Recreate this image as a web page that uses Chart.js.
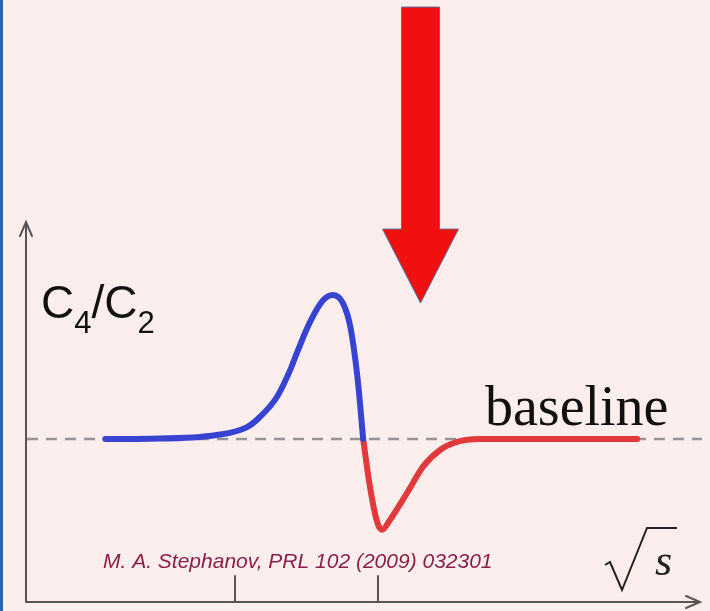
<!DOCTYPE html>
<html>
<head>
<meta charset="utf-8">
<script src="https://cdn.jsdelivr.net/npm/chart.js@4.4.1/dist/chart.umd.min.js"></script>
<style>
  html, body { margin: 0; padding: 0; background: #fdeeee; }
  #wrap { position: relative; width: 710px; height: 611px; }
  #strip { position: absolute; left: 0; top: 0; width: 3px; height: 611px; background: #2d62a0; }
</style>
</head>
<body>
<div id="wrap">
  <canvas id="myChart"></canvas>
  <div id="strip"></div>
</div>
<script>
// sqrt(s) on x, C4/C2 relative to the baseline on y
const risingX = [11.6, 18.2, 28.1, 32.6, 34.5, 37.0, 39.0, 40.0, 41.9, 43.9, 45.3, 46.8, 47.9, 49.0, 49.8];
const risingY = [0, 0.002, 0.028, 0.083, 0.153, 0.29, 0.48, 0.60, 0.81, 0.965, 1.0, 0.944, 0.78, 0.41, 0];
const dipX = [49.8, 50.8, 51.9, 52.6, 53.8, 56.3, 58.7, 61.2, 63.7, 67.1, 90.4];
const dipY = [0, -0.33, -0.58, -0.63, -0.56, -0.375, -0.19, -0.076, -0.02, 0, 0];
const tickValues = [30.8, 52.0];
const arrowX = 58.3;
const citation = "M. A. Stephanov, PRL 102 (2009) 032301";

function toPoints(xs, ys) {
  const pts = [];
  for (let i = 0; i < xs.length; i++) {
    pts.push({ x: xs[i], y: ys[i] });
  }
  return pts;
}

const decorations = {
  id: "decorations",
  afterDatasetsDraw(chart) {
    const ctx = chart.ctx;
    const xs = chart.scales.x;
    const ys = chart.scales.y;
    const x0 = 26;
    const yb = 602;

    ctx.save();
    // axes
    ctx.strokeStyle = "#555";
    ctx.lineWidth = 2;
    ctx.lineCap = "round";
    ctx.beginPath();
    ctx.moveTo(x0, yb);
    ctx.lineTo(x0, 222);
    ctx.moveTo(x0 - 6, 236);
    ctx.lineTo(x0, 222);
    ctx.lineTo(x0 + 6, 236);
    ctx.moveTo(x0, yb);
    ctx.lineTo(700, yb);
    ctx.moveTo(686, yb - 6);
    ctx.lineTo(700, yb);
    ctx.lineTo(686, yb + 6);
    for (const t of tickValues) {
      const px = Math.round(xs.getPixelForValue(t));
      ctx.moveTo(px, yb);
      ctx.lineTo(px, 576);
    }
    ctx.stroke();

    // red arrow
    const ax = xs.getPixelForValue(arrowX);
    const top = ys.getPixelForValue(3.0);
    const tip = ys.getPixelForValue(0.944);
    const neck = tip - 74;
    ctx.beginPath();
    ctx.moveTo(ax - 19, top);
    ctx.lineTo(ax + 19, top);
    ctx.lineTo(ax + 19, neck);
    ctx.lineTo(ax + 38, neck);
    ctx.lineTo(ax, tip);
    ctx.lineTo(ax - 38, neck);
    ctx.lineTo(ax - 19, neck);
    ctx.closePath();
    ctx.fillStyle = "#f01010";
    ctx.fill();
    ctx.strokeStyle = "#5d6a9c";
    ctx.lineWidth = 1;
    ctx.lineCap = "butt";
    ctx.stroke();

    // C4/C2 label
    ctx.fillStyle = "#111";
    ctx.textBaseline = "alphabetic";
    let cx = 41;
    const big = "46px 'Liberation Sans', Arial, sans-serif";
    const small = "31px 'Liberation Sans', Arial, sans-serif";
    const parts = [["C", big, 318], ["4", small, 333], ["/", big, 318], ["C", big, 318], ["2", small, 333]];
    for (const p of parts) {
      ctx.font = p[1];
      ctx.fillText(p[0], cx, p[2]);
      cx += ctx.measureText(p[0]).width;
    }

    // baseline label
    ctx.font = "56px 'Liberation Serif', 'Times New Roman', serif";
    ctx.fillText("baseline", 485, 425);

    // citation
    ctx.font = "italic 21px 'Liberation Sans', Arial, sans-serif";
    ctx.fillStyle = "#8b1e47";
    ctx.fillText(citation, 103, 568);

    // sqrt(s)
    ctx.strokeStyle = "#222";
    ctx.lineWidth = 2;
    ctx.lineJoin = "miter";
    ctx.beginPath();
    ctx.moveTo(605, 565);
    ctx.lineTo(610, 562);
    ctx.lineTo(622, 590);
    ctx.lineTo(647, 528);
    ctx.lineTo(677, 528);
    ctx.stroke();
    ctx.fillStyle = "#222";
    ctx.font = "italic 44px 'Liberation Serif', 'Times New Roman', serif";
    ctx.fillText("s", 655, 575);
    ctx.restore();
  }
};

function renderChart() {
  const ctx = document.getElementById("myChart");

  new Chart(ctx, {
    type: "line",
    data: {
      datasets: [
        {
          label: "rising",
          data: toPoints(risingX, risingY),
          borderColor: "#3744d2",
          borderWidth: 6,
          pointRadius: 0,
          cubicInterpolationMode: "monotone",
          borderCapStyle: "round",
          order: 1,
        },
        {
          label: "dip",
          data: toPoints(dipX, dipY),
          borderColor: "#e03a3c",
          borderWidth: 6,
          pointRadius: 0,
          cubicInterpolationMode: "monotone",
          borderCapStyle: "round",
          order: 1,
        },
        {
          label: "baseline",
          data: [{ x: 0, y: 0 }, { x: 100, y: 0 }],
          borderColor: "#949494",
          borderWidth: 2.5,
          borderDash: [11, 8],
          pointRadius: 0,
          order: 3,
        },
      ],
    },
    options: {
      responsive: true,
      maintainAspectRatio: false,
      animation: false,
      layout: { padding: { left: 27, right: 8, top: 0, bottom: 9 } },
      plugins: { legend: { display: false }, tooltip: { enabled: false } },
      scales: {
        x: { type: "linear", min: 0, max: 100, display: false },
        y: { type: "linear", min: -1.132, max: 3.049, display: false },
      },
    },
    plugins: [decorations],
  });
}

renderChart();
</script>
</body>
</html>
